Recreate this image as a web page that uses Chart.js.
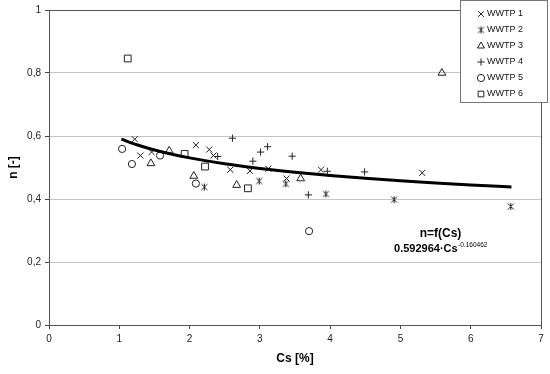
<!DOCTYPE html>
<html>
<head>
<meta charset="utf-8">
<script src="https://cdn.jsdelivr.net/npm/chart.js@4/dist/chart.umd.min.js"></script>
<style>
  html, body { margin: 0; padding: 0; background: #fff; }
  #wrap { position: relative; width: 550px; height: 374px; }
</style>
</head>
<body>
<div id="wrap"><canvas id="c" width="550" height="374"></canvas></div>
<script>
// ── data ──
const seriesNames = ['WWTP 1', 'WWTP 2', 'WWTP 3', 'WWTP 4', 'WWTP 5', 'WWTP 6'];

const wwtp1X = [1.22, 1.30, 1.46, 2.09, 2.28, 2.34, 2.58, 2.86, 3.12, 3.38, 3.87, 5.31];
const wwtp1Y = [0.590, 0.538, 0.549, 0.571, 0.557, 0.538, 0.493, 0.489, 0.496, 0.465, 0.493, 0.483];

const wwtp2X = [2.21, 2.99, 3.37, 3.94, 4.91, 6.57];
const wwtp2Y = [0.438, 0.457, 0.448, 0.416, 0.398, 0.376];

const wwtp3X = [1.45, 1.71, 2.06, 2.67, 3.58, 5.59];
const wwtp3Y = [0.513, 0.553, 0.473, 0.444, 0.465, 0.800];

const wwtp4X = [2.40, 2.61, 2.90, 3.01, 3.11, 3.46, 3.69, 3.96, 4.49];
const wwtp4Y = [0.535, 0.593, 0.520, 0.549, 0.566, 0.536, 0.413, 0.488, 0.486];

const wwtp5X = [1.04, 1.18, 1.58, 2.09, 3.70];
const wwtp5Y = [0.559, 0.511, 0.538, 0.449, 0.298];

const wwtp6X = [1.12, 1.93, 2.22, 2.83];
const wwtp6Y = [0.846, 0.543, 0.503, 0.434];

// fitted curve n = f(Cs), points along the drawn line
const fitX = [1.03, 1.25, 1.5, 2, 2.5, 3, 3.5, 4, 4.5, 5, 5.5, 6, 6.58];
const fitY = [0.5902, 0.5721, 0.5556, 0.5306, 0.5119, 0.4971, 0.4850, 0.4747, 0.4658, 0.4580, 0.4511, 0.4448, 0.4383];

const xTicks = [0, 1, 2, 3, 4, 5, 6, 7];
const yTicks = [0, 0.2, 0.4, 0.6, 0.8, 1];

const fitLabel = 'n=f(Cs)';
const fitFormula = '0.592964·Cs';
const fitExponent = '-0.160462';

// ── helpers ──
const INK = '#222';
const FONT = "'Liberation Sans', Arial, sans-serif";
const zip = (xs, ys) => xs.map((x, i) => ({ x, y: ys[i] }));

// Excel style "star" marker: x with a vertical stroke
function starMarker() {
  const cv = document.createElement('canvas');
  cv.width = 9; cv.height = 9;
  const c = cv.getContext('2d');
  c.strokeStyle = INK; c.lineWidth = 1;
  c.beginPath();
  c.moveTo(1.5, 1.5); c.lineTo(7.5, 7.5);
  c.moveTo(7.5, 1.5); c.lineTo(1.5, 7.5);
  c.moveTo(4.5, 1); c.lineTo(4.5, 8);
  c.stroke();
  return cv;
}
const starImg = starMarker();

const styles = [
  { pointStyle: 'crossRot', radius: 4.3 },
  { pointStyle: starImg, radius: 4.5 },
  { pointStyle: 'triangle', radius: 4.5 },
  { pointStyle: 'cross', radius: 3.6 },
  { pointStyle: 'circle', radius: 3.6 },
  { pointStyle: 'rect', radius: 4.8 },
];
const xs = [wwtp1X, wwtp2X, wwtp3X, wwtp4X, wwtp5X, wwtp6X];
const ys = [wwtp1Y, wwtp2Y, wwtp3Y, wwtp4Y, wwtp5Y, wwtp6Y];

const pointSets = seriesNames.map((name, i) => ({
  label: name,
  data: zip(xs[i], ys[i]),
  pointStyle: styles[i].pointStyle,
  pointRadius: styles[i].radius,
  pointHoverRadius: styles[i].radius,
  pointBorderColor: INK,
  pointBackgroundColor: 'rgba(255,255,255,0)',
  pointBorderWidth: 1,
  showLine: false,
}));

const fitSet = {
  label: 'fit',
  data: zip(fitX, fitY),
  showLine: true,
  borderColor: '#000',
  borderWidth: 3,
  pointRadius: 0,
  cubicInterpolationMode: 'monotone',
  fill: false,
};

// plot frame, legend box and fit annotation
const extras = {
  id: 'extras',
  afterDraw(chart) {
    const { ctx, chartArea: a, scales } = chart;
    ctx.save();
    ctx.strokeStyle = '#555';
    ctx.lineWidth = 1;
    ctx.strokeRect(Math.round(a.left) + 0.5, Math.round(a.top) + 0.5,
      Math.round(a.right - a.left), Math.round(a.bottom - a.top));

    // annotation
    const cx = scales.x.getPixelForValue(5.57);
    ctx.fillStyle = '#000';
    ctx.textBaseline = 'middle';
    ctx.textAlign = 'center';
    ctx.font = `bold 12px ${FONT}`;
    ctx.fillText(fitLabel, cx, scales.y.getPixelForValue(0.29));
    ctx.font = `bold 11px ${FONT}`;
    const w1 = ctx.measureText(fitFormula).width;
    ctx.font = `6.5px ${FONT}`;
    const w2 = ctx.measureText(fitExponent).width;
    const left = cx - (w1 + w2) / 2;
    const fy = scales.y.getPixelForValue(0.242);
    ctx.textAlign = 'left';
    ctx.font = `bold 11px ${FONT}`;
    ctx.fillText(fitFormula, left, fy);
    ctx.font = `6.5px ${FONT}`;
    ctx.fillText(fitExponent, left + w1 + 0.5, fy - 4);

    // legend
    const bx = 460.5, by = 0.5, bw = 87, bh = 102;
    ctx.fillStyle = '#fff';
    ctx.fillRect(bx, by, bw, bh);
    ctx.strokeStyle = '#777';
    ctx.strokeRect(bx, by, bw, bh);
    ctx.font = `9px ${FONT}`;
    ctx.textAlign = 'left';
    seriesNames.forEach((name, i) => {
      const ry = 14 + i * 16;
      ctx.strokeStyle = INK;
      ctx.fillStyle = 'rgba(255,255,255,0)';
      ctx.lineWidth = 1;
      Chart.helpers.drawPoint(ctx, {
        pointStyle: styles[i].pointStyle,
        radius: Math.min(styles[i].radius, 4),
        rotation: 0,
        borderWidth: 1,
      }, 481, ry);
      ctx.fillStyle = '#111';
      ctx.fillText(name, 487, ry);
    });
    ctx.restore();
  }
};

new Chart(document.getElementById('c'), {
  type: 'scatter',
  data: { datasets: [fitSet, ...pointSets] },
  options: {
    responsive: false,
    animation: false,
    events: [],
    layout: { padding: { top: 6, right: 9, left: 0, bottom: 0 } },
    plugins: { legend: { display: false }, tooltip: { enabled: false } },
    scales: {
      x: {
        type: 'linear', min: 0, max: 7,
        afterBuildTicks: s => { s.ticks = xTicks.map(v => ({ value: v })); },
        afterFit: s => { s.height = 49; },
        grid: { drawOnChartArea: false, drawTicks: true, tickLength: 4, tickColor: '#444' },
        border: { color: '#444' },
        ticks: { color: '#222', font: { family: FONT, size: 10 }, padding: 4 },
        title: { display: true, text: 'Cs [%]', color: '#000', font: { family: FONT, size: 12, weight: 'bold' }, padding: { top: 0, bottom: 8 } },
      },
      y: {
        type: 'linear', min: 0, max: 1,
        afterBuildTicks: s => { s.ticks = yTicks.map(v => ({ value: v })); },
        afterFit: s => { s.width = 49; },
        grid: { color: '#c4c4c4', tickColor: '#444', tickLength: 4, drawTicks: true },
        border: { color: '#444' },
        ticks: { color: '#222', font: { family: FONT, size: 10 }, padding: 4,
          callback: v => String(v).replace('.', ',') },
        title: { display: true, text: 'n [-]', color: '#000', font: { family: FONT, size: 12, weight: 'bold' }, padding: { top: 6, bottom: 0 } },
      }
    }
  },
  plugins: [extras]
});
</script>
</body>
</html>
